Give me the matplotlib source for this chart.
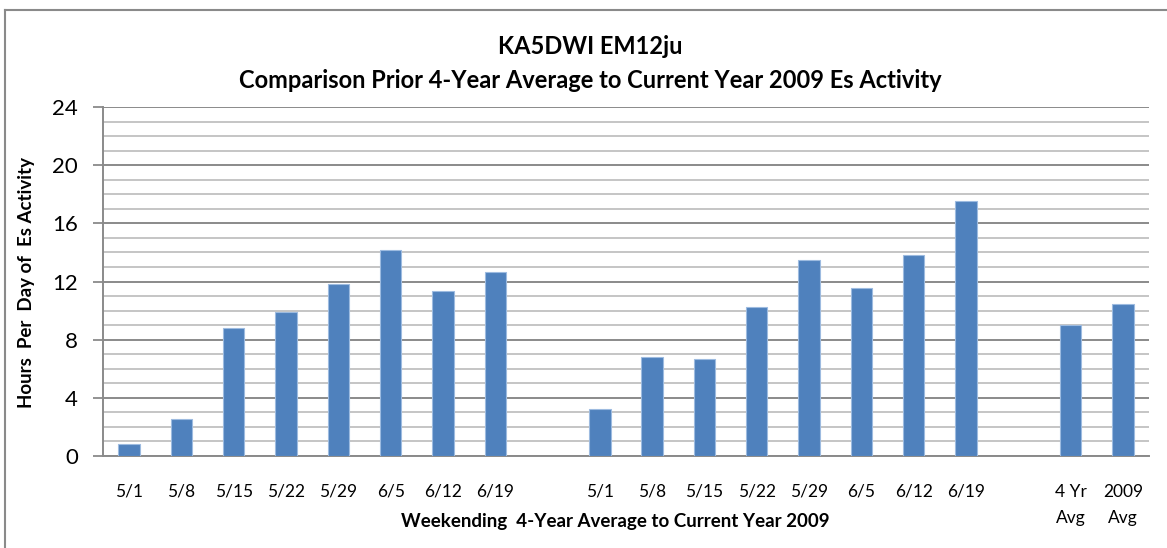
"""KA5DWI Es activity: prior 4-year average vs 2009, bar chart."""
import numpy as np
import matplotlib
matplotlib.use("Agg")
import matplotlib.pyplot as plt
from matplotlib.lines import Line2D
from matplotlib.ticker import MultipleLocator

plt.rcParams["font.family"] = ["Lato", "DejaVu Sans"]

# data
weeks = ["5/1", "5/8", "5/15", "5/22", "5/29", "6/5", "6/12", "6/19"]
avg_4yr = [0.8, 2.57, 8.83, 9.89, 11.81, 14.17, 11.35, 12.64]
year_2009 = [3.26, 6.83, 6.70, 10.25, 13.51, 11.54, 13.81, 17.52]
summary_labels = ["4 Yr\nAvg", "2009\nAvg"]
summary_values = [8.99, 10.44]

labels = weeks + [""] + weeks + [""] + summary_labels
values = avg_4yr + [np.nan] + year_2009 + [np.nan] + summary_values

W, H = 1167, 548
fig = plt.figure(figsize=(W / 100, H / 100), dpi=100)
ax = fig.add_axes([103 / W, 1 - 456 / H, (1149 - 103) / W, (456 - 107) / H])

x = np.arange(len(labels))
ax.bar(x, values, width=0.41, color="#4F81BD", edgecolor="#9dbbe0", linewidth=0.8, zorder=3)

ax.set_xlim(-0.5, len(labels) - 0.5)
ax.set_ylim(0, 24)
ax.yaxis.set_major_locator(MultipleLocator(4))
ax.yaxis.set_minor_locator(MultipleLocator(1))
ax.grid(which="minor", axis="y", color="#c0c0c0", linewidth=1.3, zorder=0)
ax.grid(which="major", axis="y", color="#8a8a8a", linewidth=1.4, zorder=1)

ax.set_xticks(x)
ax.set_xticklabels(labels, fontsize=12.5, linespacing=1.8)
ax.tick_params(axis="x", length=0, pad=20)
ax.tick_params(axis="y", which="major", length=7, width=1.3, color="#8a8a8a", labelsize=16, pad=11)
ax.tick_params(axis="y", which="minor", length=0)

for s in ["top", "right"]:
    ax.spines[s].set_visible(False)
for s in ["left", "bottom"]:
    ax.spines[s].set_color("#8a8a8a")
    ax.spines[s].set_linewidth(1.4)

fig.text(27 / W, 1 - 283 / H, "Hours  Per  Day of  Es Activity", rotation=90,
         ha="center", va="center", fontsize=13.5, fontweight="bold")
fig.text(615 / W, 1 - 521 / H, "Weekending  4-Year Average to Current Year 2009",
         ha="center", va="center", fontsize=13.5, fontweight="bold")
fig.text(590 / W, 1 - 47 / H, "KA5DWI EM12ju", ha="center", va="center",
         fontsize=17, fontweight="bold")
fig.text(590 / W, 1 - 80 / H, "Comparison Prior 4-Year Average to Current Year 2009 Es Activity",
         ha="center", va="center", fontsize=17, fontweight="bold")

# chart frame (top and left edges visible)
fig.add_artist(Line2D([4.5 / W, 4.5 / W], [0, 1 - 10 / H], color="#8a8a8a", linewidth=1.5))
fig.add_artist(Line2D([4.5 / W, 1], [1 - 10 / H, 1 - 10 / H], color="#8a8a8a", linewidth=1.5))

fig.savefig("out.png", dpi=100, facecolor="white")
